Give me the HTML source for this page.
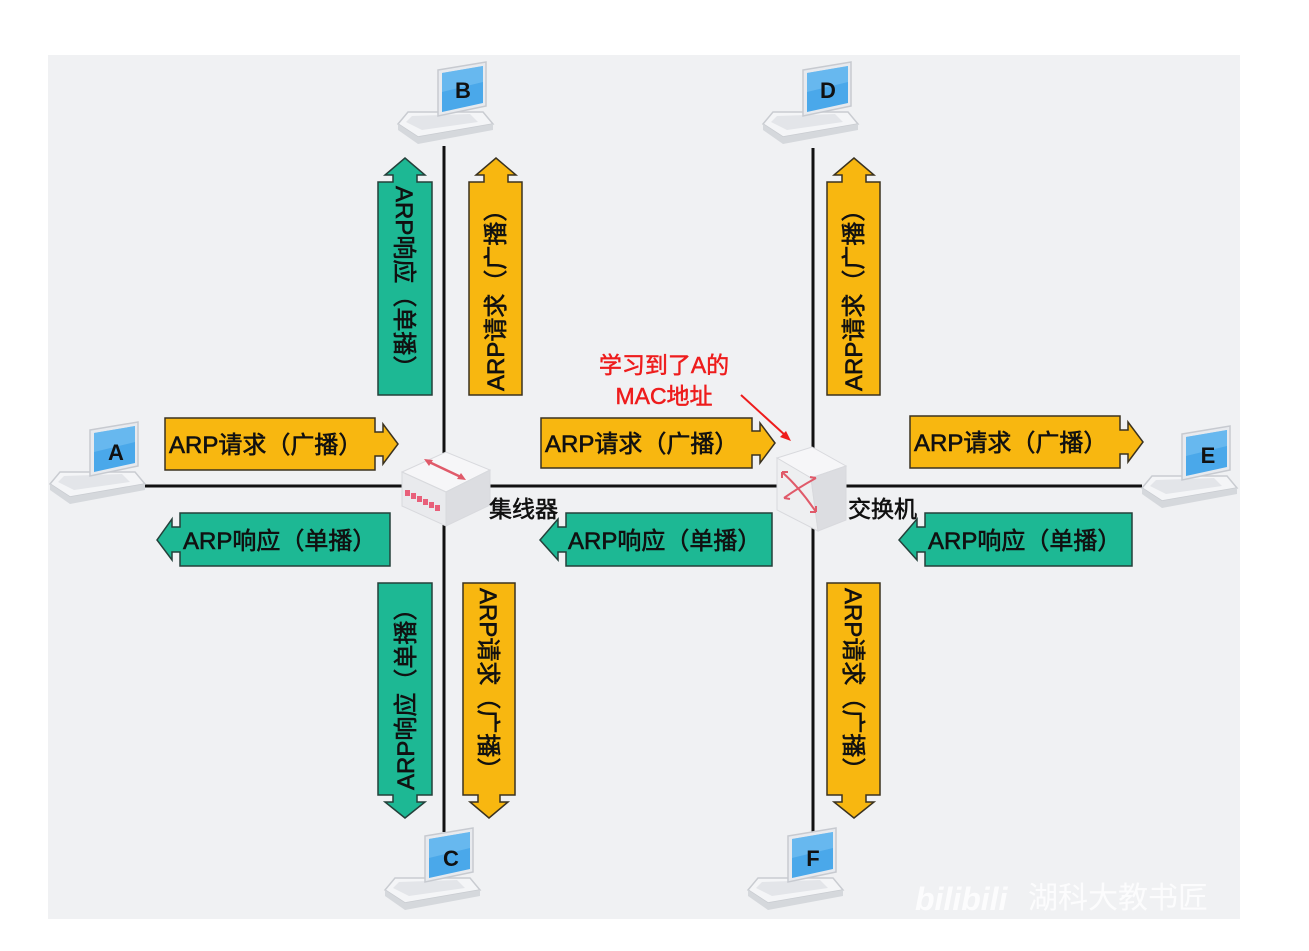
<!DOCTYPE html>
<html><head><meta charset="utf-8">
<style>
html,body{margin:0;padding:0;background:#fff;}
svg{display:block;}
text{font-family:"Liberation Sans","Noto Sans CJK SC",sans-serif;}
</style></head>
<body>
<svg width="1309" height="951" viewBox="0 0 1309 951" xmlns="http://www.w3.org/2000/svg">
<defs>
<g id="laptop">
  <polygon points="10,50 85,50 95,62 20,75 0,62" fill="#f4f5f7" stroke="#c9ccd1" stroke-width="1.5"/>
  <polygon points="14,54 72,52 80,60 24,68 8,60" fill="#e3e5e9"/>
  <polygon points="0,62 20,75 95,62 95,68 20,82 0,68" fill="#d5d8dc"/>
  <polygon points="40,8 88,0 88,44 40,54" fill="#e8eaee" stroke="#c7cad0" stroke-width="1.5"/>
  <polygon points="44,11 85,4 85,41 44,50" fill="#4aa8ea"/>
  <polygon points="44,11 85,4 85,20 44,30" fill="#7cc3f2" opacity="0.6"/>
</g>
</defs>
<rect x="0" y="0" width="1309" height="951" fill="#fff"/>
<rect x="48" y="55" width="1192" height="864" fill="#f0f1f3"/>

<g stroke="#111" stroke-width="3">
<line x1="140" y1="486" x2="1142" y2="486"/>
<line x1="444" y1="146" x2="444" y2="832"/>
<line x1="813" y1="148" x2="813" y2="832"/>
</g>

<g fill="#f8b710" stroke="#3a3220" stroke-width="1.5">
<polygon points="165,418 375,418 375,432 383,432 383,424 398,444 383,464 383,456 375,456 375,470 165,470"/>
<polygon points="541,418 752,418 752,431 760,431 760,423 775,443 760,463 760,455 752,455 752,468 541,468"/>
<polygon points="910,416 1120,416 1120,430 1128,430 1128,422 1143,442 1128,462 1128,454 1120,454 1120,468 910,468"/>
</g>
<g fill="#1db894" stroke="#24403a" stroke-width="1.5">
<polygon points="390,513 180,513 180,527 172,527 172,519 157,540 172,560 172,552 180,552 180,566 390,566"/>
<polygon points="772,513 566,513 566,527 558,527 558,519 540,540 558,560 558,552 566,552 566,566 772,566"/>
<polygon points="1132,513 925,513 925,527 917,527 917,519 899,540 917,560 917,552 925,552 925,566 1132,566"/>
</g>
<polygon fill="#1db894" stroke="#24403a" stroke-width="1.5" points="378,395 378,182 393,182 393,175 385,175 405,158 425,175 417,175 417,182 432,182 432,395"/>
<polygon fill="#f8b710" stroke="#3a3220" stroke-width="1.5" points="469,395 469,182 484,182 484,175 476,175 496,158 516,175 508,175 508,182 522,182 522,395"/>
<polygon fill="#f8b710" stroke="#3a3220" stroke-width="1.5" points="827,395 827,182 842,182 842,175 834,175 854,158 874,175 866,175 866,182 880,182 880,395"/>
<polygon fill="#1db894" stroke="#24403a" stroke-width="1.5" points="378,583 378,795 393,795 393,802 385,802 405,818 425,802 417,802 417,795 432,795 432,583"/>
<polygon fill="#f8b710" stroke="#3a3220" stroke-width="1.5" points="463,583 463,795 478,795 478,802 470,802 489,818 508,802 500,802 500,795 515,795 515,583"/>
<polygon fill="#f8b710" stroke="#3a3220" stroke-width="1.5" points="827,583 827,795 842,795 842,802 834,802 854,818 874,802 866,802 866,795 880,795 880,583"/>

<g font-size="24" fill="#111" stroke="#111" stroke-width="0.6">
<text x="169" y="453">ARP请求（广播）</text>
<text x="545" y="452">ARP请求（广播）</text>
<text x="914" y="451">ARP请求（广播）</text>
<text x="183" y="549">ARP响应（单播）</text>
<text x="568" y="549">ARP响应（单播）</text>
<text x="928" y="549">ARP响应（单播）</text>
<text transform="translate(396,186) rotate(90)">ARP响应（单播）</text>
<text transform="translate(504,391) rotate(-90)">ARP请求（广播）</text>
<text transform="translate(862,391) rotate(-90)">ARP请求（广播）</text>
<text transform="translate(414,790) rotate(-90)">ARP响应（单播）</text>
<text transform="translate(480,588) rotate(90)">ARP请求（广播）</text>
<text transform="translate(845,588) rotate(90)">ARP请求（广播）</text>
</g>

<g>
<polygon points="402,472 446,452 490,470 446,492" fill="#f6f6f8" stroke="#d8d9dd"/>
<polygon points="402,472 446,492 446,526 402,506" fill="#e9eaed" stroke="#d8d9dd"/>
<polygon points="446,492 490,470 490,505 446,526" fill="#dcdde1" stroke="#d8d9dd"/>
<line x1="427" y1="461" x2="463" y2="478" stroke="#e05a6a" stroke-width="2.5"/>
<polygon points="424,459 433,460 429,466" fill="#e05a6a"/>
<polygon points="466,480 457,479 461,473" fill="#e05a6a"/>
<g fill="#e8607a">
<rect x="405" y="490" width="5" height="6"/><rect x="411" y="493" width="5" height="6"/><rect x="417" y="496" width="5" height="6"/><rect x="423" y="499" width="5" height="6"/><rect x="429" y="502" width="5" height="6"/><rect x="435" y="505" width="5" height="6"/>
</g>
</g>
<text x="489" y="517" font-size="23" fill="#111" stroke="#111" stroke-width="0.6">集线器</text>
<g>
<polygon points="777,458 812,447 846,466 811,478" fill="#f6f6f8" stroke="#d8d9dd"/>
<polygon points="777,458 811,478 818,531 777,510" fill="#eeeff1" stroke="#d8d9dd"/>
<polygon points="811,478 846,466 846,520 818,531" fill="#dcdde1" stroke="#d8d9dd"/>
<g stroke="#e05a6a" stroke-width="2" fill="none">
<path d="M782,472 Q800,488 816,512"/>
<path d="M784,498 Q798,488 816,478"/>
<path d="M782,472 l6,0 M782,472 l0,6 M816,512 l-6,0 M816,512 l0,-6 M784,498 l6,1 M816,478 l-6,-1"/>
</g>
</g>
<text x="848" y="517" font-size="23" fill="#111" stroke="#111" stroke-width="0.6">交换机</text>

<text x="664" y="373" font-size="23" fill="#ee1c1c" stroke="#ee1c1c" stroke-width="0.5" text-anchor="middle">学习到了A的</text>
<text x="664" y="404" font-size="23" fill="#ee1c1c" stroke="#ee1c1c" stroke-width="0.5" text-anchor="middle">MAC地址</text>
<line x1="741" y1="395" x2="786" y2="436" stroke="#ee1c1c" stroke-width="2"/>
<polygon points="791,441 780,437 786,431" fill="#ee1c1c"/>

<use href="#laptop" transform="translate(50,422)"/>
<use href="#laptop" transform="translate(398,62)"/>
<use href="#laptop" transform="translate(763,62)"/>
<use href="#laptop" transform="translate(1142,426)"/>
<use href="#laptop" transform="translate(385,828)"/>
<use href="#laptop" transform="translate(748,828)"/>
<g font-size="22" font-weight="bold" fill="#111" text-anchor="middle">
<text x="116" y="460">A</text>
<text x="463" y="98">B</text>
<text x="828" y="98">D</text>
<text x="1208" y="463">E</text>
<text x="451" y="866">C</text>
<text x="813" y="866">F</text>
</g>

<text x="915" y="910" font-size="32" font-weight="bold" fill="#ffffff" opacity="0.85" font-style="italic">bilibili</text>
<text x="1028" y="908" font-size="30" fill="#ffffff" opacity="0.85">湖科大教书匠</text>
</svg>
</body></html>
